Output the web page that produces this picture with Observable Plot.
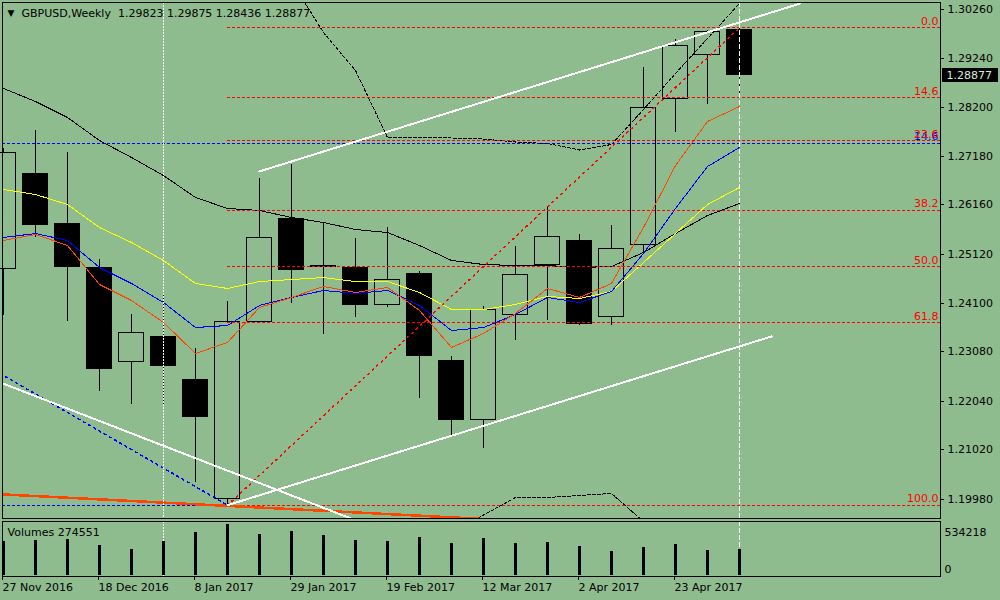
<!DOCTYPE html>
<html><head><meta charset="utf-8">
<script src="https://cdn.jsdelivr.net/npm/d3@7"></script>
<script src="https://cdn.jsdelivr.net/npm/@observablehq/plot@0.6"></script>
<style>
html,body{margin:0;padding:0;background:#8fbc8f;overflow:hidden;width:1000px;height:600px;}
svg{display:block}
svg line, svg path, svg rect{shape-rendering:crispEdges}
</style></head><body><div id="chart"></div>
<script>
// ---- data ----
const symbol = "GBPUSD,Weekly";
const weeks = ["27 Nov 2016","4 Dec 2016","11 Dec 2016","18 Dec 2016","25 Dec 2016","1 Jan 2017","8 Jan 2017","15 Jan 2017","22 Jan 2017","29 Jan 2017","5 Feb 2017","12 Feb 2017","19 Feb 2017","26 Feb 2017","5 Mar 2017","12 Mar 2017","19 Mar 2017","26 Mar 2017","2 Apr 2017","9 Apr 2017","16 Apr 2017","23 Apr 2017","30 Apr 2017","7 May 2017"];
const opens  = [1.24826,1.26819,1.25770,1.24847,1.22854,1.23379,1.22497,1.19980,1.23714,1.25875,1.24879,1.24847,1.24050,1.24721,1.22875,1.21658,1.23861,1.24910,1.25393,1.23819,1.25309,1.28372,1.29316,1.29823];
const highs  = [1.27344,1.27721,1.27260,1.25015,1.23861,1.24302,1.23148,1.24134,1.26714,1.27008,1.25791,1.25456,1.25686,1.24763,1.22980,1.24029,1.25288,1.26127,1.25540,1.25728,1.29043,1.29631,1.29819,1.29875];
const lows   = [1.23840,1.25477,1.23714,1.22246,1.21973,1.21952,1.20336,1.19860,1.23672,1.24092,1.23442,1.23798,1.24008,1.22099,1.21323,1.21050,1.23316,1.23735,1.23630,1.23630,1.25141,1.27679,1.28267,1.28436];
const closes = [1.27239,1.25749,1.24868,1.22728,1.23463,1.22791,1.21721,1.23714,1.25456,1.24805,1.24858,1.24050,1.24595,1.22980,1.21658,1.23945,1.24700,1.25477,1.23672,1.25225,1.28204,1.29484,1.29798,1.28877];
const volumes = [356150,366620,377100,314250,272350,356150,450420,534218,429470,460900,419000,366620,356150,398050,335200,387570,335200,345670,303770,251400,293300,324720,261870,274551];

const maBlack  = [1.28603,1.28330,1.27994,1.27512,1.27155,1.26777,1.26316,1.26085,1.26043,1.25896,1.25791,1.25644,1.25581,1.25309,1.24994,1.24910,1.24889,1.24889,1.24847,1.24868,1.25162,1.25560,1.25938,1.26190];
const maYellow = [1.26484,1.26379,1.26169,1.25686,1.25372,1.24994,1.24512,1.24407,1.24553,1.24595,1.24637,1.24553,1.24553,1.24323,1.23966,1.23966,1.24071,1.24239,1.24197,1.24344,1.24952,1.25560,1.26169,1.26526];
const maBlue   = [1.25477,1.25560,1.25414,1.24847,1.24512,1.24113,1.23588,1.23630,1.24050,1.24218,1.24365,1.24302,1.24365,1.24050,1.23525,1.23588,1.23861,1.24218,1.24113,1.24344,1.25141,1.26085,1.26966,1.27365];
const maOrange = [1.25414,1.25540,1.25309,1.24490,1.24155,1.23693,1.23043,1.23274,1.24008,1.24218,1.24449,1.24323,1.24428,1.23945,1.23169,1.23463,1.23882,1.24407,1.24218,1.24512,1.25686,1.26987,1.27910,1.28225];
const bandUpper = [null,null,null,null,null,null,null,null,null,1.30847,1.29777,1.28980,1.27575,1.27575,1.27564,1.27543,1.27480,1.27449,1.27312,1.27428,1.28162,1.28917,1.29652,1.30386];
const bandLower = [null,null,null,null,null,null,null,null,null,null,null,null,null,null,1.19287,1.19654,1.20022,1.20022,1.20064,1.20106,1.19518,null,null,null];

const fibHigh = 1.29875, fibLow = 1.19860, fibFrom = "15 Jan 2017", fibTo = "7 May 2017";
const fibPcts = [0.0, 14.6, 23.6, 38.2, 50.0, 61.8, 100.0];
const blueLevels = [1.27449, 1.19860];
const blueLabels = ["14.6"];
const channelUpper = [[8, 1.26863], [24.9, 1.30386]];
const channelLower = [[7, 1.19860], [24, 1.23400]];
const whiteDown   = [[-0.1, 1.22434], [11.5, 1.19414]];
const orangeTrend = [[-0.1, 1.20089], [16, 1.19537]];
const blueDiag    = [[-0.1, 1.22620], [7, 1.19860]];
const yTicks = [1.30260,1.29240,1.28200,1.27180,1.26160,1.25120,1.24100,1.23080,1.22040,1.21020,1.19980];
const tickLabels = ["27 Nov 2016","18 Dec 2016","8 Jan 2017","29 Jan 2017","19 Feb 2017","12 Mar 2017","2 Apr 2017","23 Apr 2017"];
const yearSeparator = "1 Jan 2017";
const currentBar = "7 May 2017";
const volMax = 534218;

// ---- derived ----
const BG = "#8fbc8f";
const candles = weeks.map((w, i) => ({i, week: w, open: opens[i], high: highs[i], low: lows[i], close: closes[i]}));
const idx = weeks.map((w, i) => i);
const fi0 = weeks.indexOf(fibFrom), fi1 = weeks.indexOf(fibTo);
const fibs = fibPcts.map(p => ({label: p.toFixed(1), price: fibHigh - p / 100 * (fibHigh - fibLow)}));
const xDomain = [-0.03125, 29.28125];
const yDomain = [1.19581, 1.30407];
const last = candles[candles.length - 1];
const f5 = v => v.toFixed(5);
const font = {background: "transparent", color: "black", fontFamily: "DejaVu Sans", fontSize: "11px", overflow: "visible"};
const sepI = weeks.indexOf(yearSeparator), curI = weeks.indexOf(currentBar);
const DASH = "3,2";

const main = Plot.plot({
  width: 1000, height: 520,
  marginTop: 2, marginBottom: 2, marginLeft: 2, marginRight: 60,
  x: {type: "linear", domain: xDomain, axis: null},
  y: {type: "linear", domain: yDomain, axis: null},
  style: font,
  marks: [
    Plot.ruleX(candles, {x: "i", y1: "low", y2: "high", stroke: "black", strokeWidth: 1}),
    Plot.rect(candles, {x1: d => d.i - 0.38, x2: d => d.i + 0.38, y1: "open", y2: "close",
      fill: d => d.close >= d.open ? BG : "black", stroke: "black", strokeWidth: 1}),
    Plot.line(idx, {x: i => i, y: i => maBlack[i], stroke: "black", strokeWidth: 1}),
    Plot.line(idx, {x: i => i, y: i => maYellow[i], stroke: "#ffff00", strokeWidth: 1}),
    Plot.line(idx, {x: i => i, y: i => maBlue[i], stroke: "#0000ff", strokeWidth: 1}),
    Plot.line(idx, {x: i => i, y: i => maOrange[i], stroke: "#ff4500", strokeWidth: 1}),
    Plot.line(idx, {x: i => i, y: i => bandUpper[i], stroke: "black", strokeWidth: 1, strokeDasharray: DASH, clip: true}),
    Plot.line(idx, {x: i => i, y: i => bandLower[i], stroke: "black", strokeWidth: 1, strokeDasharray: DASH, clip: true}),
    Plot.ruleY(blueLevels, {y: d => d, stroke: "#0000ff", strokeDasharray: DASH}),
    Plot.ruleY(fibs, {y: "price", x1: () => fi0, x2: () => xDomain[1], stroke: "#ff0000", strokeDasharray: DASH}),
    Plot.line([[fi0, fibLow], [fi1, fibHigh]], {x: d => d[0], y: d => d[1], stroke: "#ff0000", strokeDasharray: "1.5,4.5"}),
    Plot.line(blueDiag, {x: d => d[0], y: d => d[1], stroke: "#0000ff", strokeDasharray: "2,4", clip: true}),
    Plot.text(blueLabels, {y: () => blueLevels[0], text: d => d, frameAnchor: "right", textAnchor: "end", dx: -2, dy: -7, fill: "#0000ff"}),
    Plot.text(fibs, {y: "price", text: "label", frameAnchor: "right", textAnchor: "end", dx: -2, dy: -6.5, fill: "#ff0000"}),
    Plot.line(orangeTrend, {x: d => d[0], y: d => d[1], stroke: "#ff4500", strokeWidth: 2.5, clip: true}),
    Plot.line(whiteDown, {x: d => d[0], y: d => d[1], stroke: "white", strokeWidth: 2, clip: true}),
    Plot.line(channelUpper, {x: d => d[0], y: d => d[1], stroke: "white", strokeWidth: 2, clip: true}),
    Plot.line(channelLower, {x: d => d[0], y: d => d[1], stroke: "white", strokeWidth: 2, clip: true}),
    Plot.ruleX([sepI], {x: d => d, stroke: "white", strokeDasharray: "2,1"}),
    Plot.ruleX([curI], {x: d => d, stroke: "white", strokeDasharray: "5,2"}),
    Plot.frame({stroke: "black"}),
    Plot.axisY(yTicks, {anchor: "right", tickSize: 3, tickPadding: 4, tickFormat: f5, fontSize: 11, fill: "black"}),
    Plot.ruleY([last.close], {x1: () => xDomain[1] + 0.06, x2: () => xDomain[1] + 1.81, stroke: "black", strokeWidth: 14}),
    Plot.text([last.close], {y: d => d, text: f5, frameAnchor: "right", dx: 6, textAnchor: "start", fill: "#d8ecd8"}),
    Plot.text(["▼"], {frameAnchor: "top-left", dx: 8.5, dy: 10.5, lineAnchor: "middle", textAnchor: "middle", fontSize: 9}),
    Plot.text([`${symbol}\u00a0 ${f5(last.open)} ${f5(last.high)} ${f5(last.low)} ${f5(last.close)}`],
      {frameAnchor: "top-left", dx: 19, dy: 7, lineAnchor: "top", textAnchor: "start", text: d => d})
  ]
});

const vol = Plot.plot({
  width: 1000, height: 80,
  marginTop: 0.5, marginBottom: 24, marginLeft: 2, marginRight: 60,
  x: {type: "linear", domain: xDomain, axis: null},
  y: {type: "linear", domain: [0, volMax], range: [55, 4], axis: null},
  style: font,
  marks: [
    Plot.ruleX([sepI], {x: d => d, stroke: "white", strokeDasharray: "2,1"}),
    Plot.ruleX([curI], {x: d => d, stroke: "white", strokeDasharray: "5,2"}),
    Plot.ruleX(idx, {x: i => i, y1: () => 0, y2: i => volumes[i], stroke: "black", strokeWidth: 3}),
    Plot.frame({stroke: "black"}),
    Plot.axisX(tickLabels.map(l => weeks.indexOf(l)), {anchor: "bottom", tickSize: 4, tickPadding: 3,
      tickFormat: i => weeks[i], textAnchor: "start", dx: -1, fontSize: 11, fill: "black"}),
    Plot.text([volumes[volumes.length - 1]], {frameAnchor: "top-left", dx: 5, dy: 11.5, lineAnchor: "middle", textAnchor: "start", text: d => "Volumes " + d}),
    Plot.text([volMax], {frameAnchor: "top-right", dx: 4, dy: 11, lineAnchor: "middle", textAnchor: "start", text: d => String(d)}),
    Plot.text([0], {frameAnchor: "bottom-right", dx: 4, dy: -7, lineAnchor: "middle", textAnchor: "start", text: d => String(d)})
  ]
});

document.getElementById("chart").append(main, vol);
</script>
</body></html>
